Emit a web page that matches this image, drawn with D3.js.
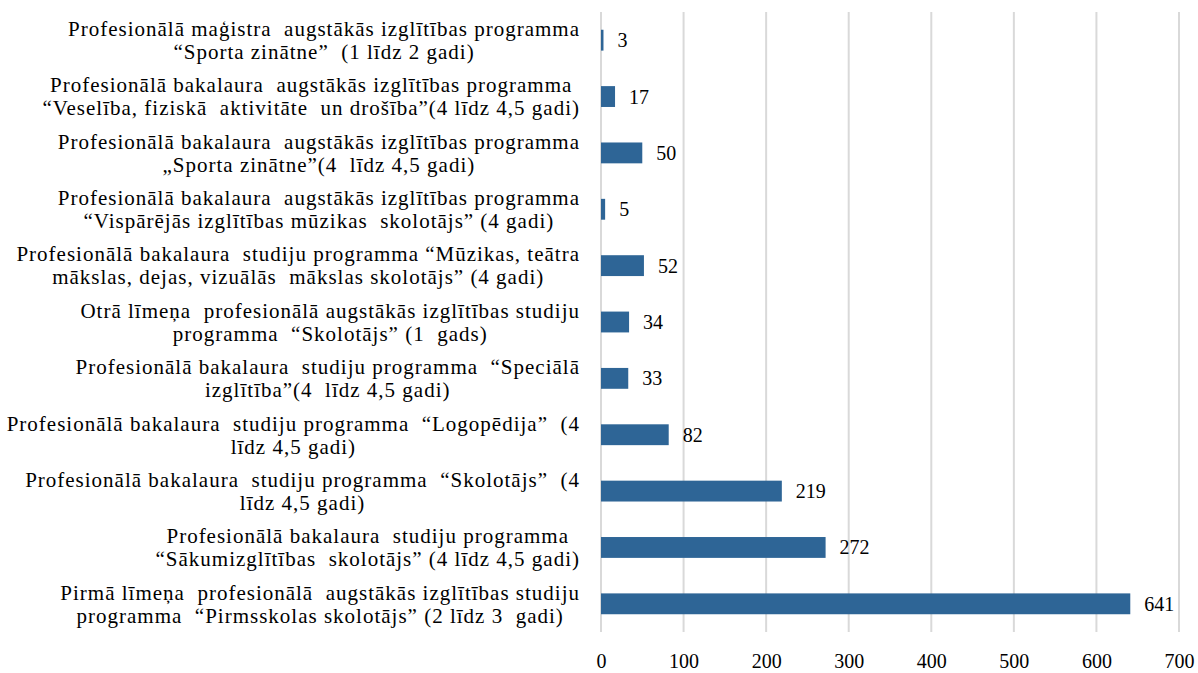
<!DOCTYPE html>
<html>
<head>
<meta charset="utf-8">
<script src="https://cdn.jsdelivr.net/npm/d3@7"></script>
<style>
  body { margin: 0; background: #fff; }
  svg text { font-family: "Liberation Serif", "Times New Roman", serif; fill: #000; }
</style>
</head>
<body>
<svg></svg>
<script>
const width = 1198;
const height = 673;
const margin = { top: 12, right: 19, bottom: 41, left: 601 };
const labelRight = 580;
const fontSize = 20;

// program names, each split into the two lines shown on the chart
const programs = [
  ['Profesionālā maģistra  augstākās izglītības programma', '“Sporta zinātne”  (1 līdz 2 gadi)'],
  ['Profesionālā bakalaura  augstākās izglītības programma', '“Veselība, fiziskā  aktivitāte  un drošība”(4 līdz 4,5 gadi)'],
  ['Profesionālā bakalaura  augstākās izglītības programma', '„Sporta zinātne”(4  līdz 4,5 gadi)'],
  ['Profesionālā bakalaura  augstākās izglītības programma', '“Vispārējās izglītības mūzikas  skolotājs” (4 gadi)'],
  ['Profesionālā bakalaura  studiju programma “Mūzikas, teātra', 'mākslas, dejas, vizuālās  mākslas skolotājs” (4 gadi)'],
  ['Otrā līmeņa  profesionālā augstākās izglītības studiju', 'programma  “Skolotājs” (1  gads)'],
  ['Profesionālā bakalaura  studiju programma  “Speciālā', 'izglītība”(4  līdz 4,5 gadi)'],
  ['Profesionālā bakalaura  studiju programma  “Logopēdija”  (4', 'līdz 4,5 gadi)'],
  ['Profesionālā bakalaura  studiju programma  “Skolotājs”  (4', 'līdz 4,5 gadi)'],
  ['Profesionālā bakalaura  studiju programma', '“Sākumizglītības  skolotājs” (4 līdz 4,5 gadi)'],
  ['Pirmā līmeņa  profesionālā  augstākās izglītības studiju', 'programma  “Pirmsskolas skolotājs” (2 līdz 3  gadi)']
];
const students = [3, 17, 50, 5, 52, 34, 33, 82, 219, 272, 641];
const xTicks = [0, 100, 200, 300, 400, 500, 600, 700];

const svg = d3.select('svg')
  .attr('width', width)
  .attr('height', height);

const xScale = d3.scaleLinear()
  .domain([0, 700])
  .range([margin.left, width - margin.right]);

const yScale = d3.scaleBand()
  .domain(d3.range(programs.length))
  .range([margin.top, height - margin.bottom])
  .paddingInner(0.63)
  .paddingOuter(0.315);

// vertical gridlines
svg.append('g')
  .selectAll('line')
  .data(xTicks)
  .join('line')
  .attr('x1', d => xScale(d))
  .attr('x2', d => xScale(d))
  .attr('y1', margin.top)
  .attr('y2', height - margin.bottom)
  .attr('stroke', '#d9d9d9')
  .attr('stroke-width', 2);

// bars
svg.append('g')
  .selectAll('rect')
  .data(students)
  .join('rect')
  .attr('x', xScale(0))
  .attr('y', (d, i) => yScale(i))
  .attr('width', d => xScale(d) - xScale(0))
  .attr('height', yScale.bandwidth())
  .attr('fill', '#2e6596');

// value labels
svg.append('g')
  .selectAll('text')
  .data(students)
  .join('text')
  .attr('x', d => xScale(d) + 14)
  .attr('y', (d, i) => yScale(i) + yScale.bandwidth() / 2)
  .attr('dy', '0.35em')
  .attr('font-size', fontSize)
  .text(d => d);

// x axis
const xAxis = d3.axisBottom(xScale)
  .tickValues(xTicks)
  .tickSize(0)
  .tickPadding(22);

svg.append('g')
  .attr('transform', `translate(0, ${height - margin.bottom})`)
  .call(xAxis)
  .call(g => g.select('.domain').remove())
  .selectAll('text')
  .attr('font-size', fontSize)
  .attr('font-family', '"Liberation Serif", "Times New Roman", serif');

// category labels: each two-line block is centred, the block is right-aligned
const labels = svg.append('g');
programs.forEach((lines, i) => {
  const cy = yScale(i) + yScale.bandwidth() / 2;
  const block = labels.append('g');
  const texts = lines.map((line, j) => block.append('text')
    .attr('font-size', 21)
    .attr('letter-spacing', 1.0)
    .attr('text-anchor', 'middle')
    .attr('y', cy + (j - (lines.length - 1) / 2) * 23)
    .attr('dy', '0.35em')
    .style('white-space', 'pre')
    .text(line));
  const maxW = d3.max(texts, t => t.node().getComputedTextLength());
  texts.forEach(t => t.attr('x', labelRight - maxW / 2));
});
</script>
</body>
</html>
